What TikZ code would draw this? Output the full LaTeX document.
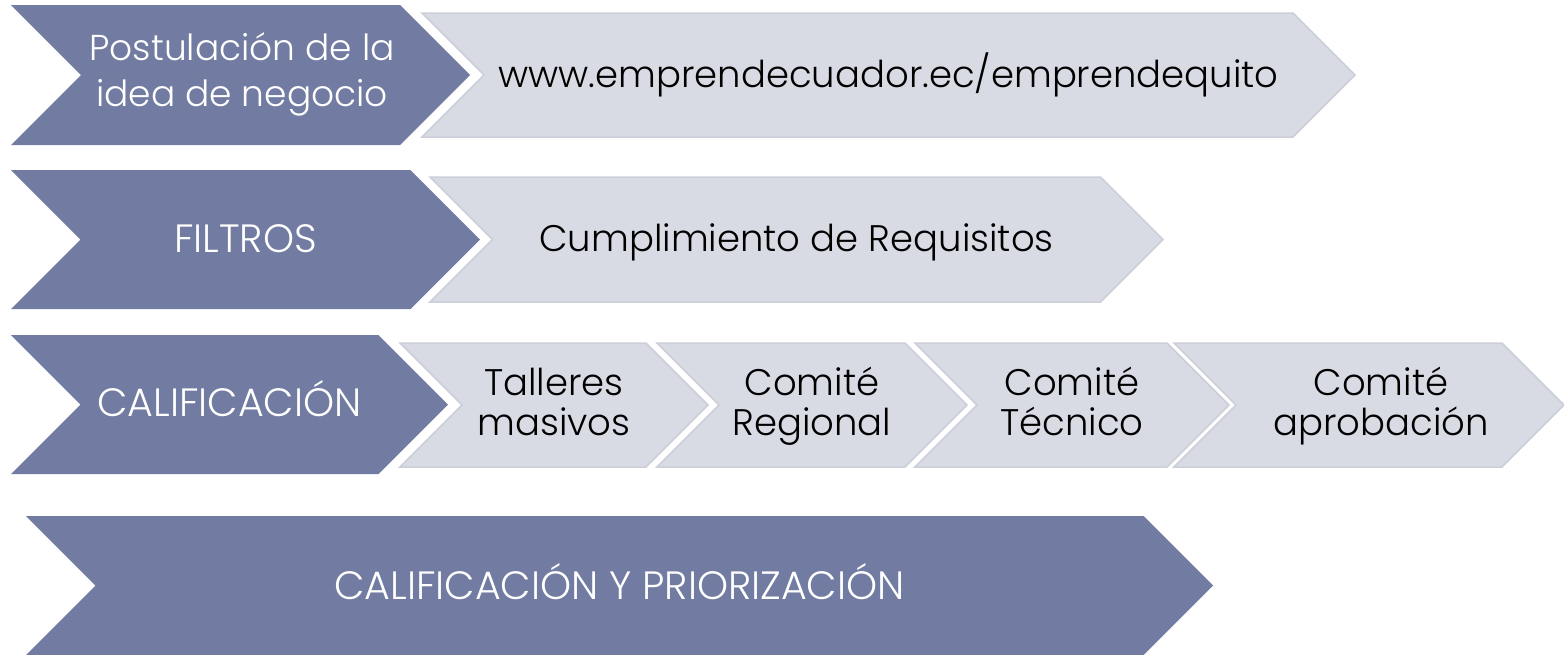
\documentclass[tikz,border=0pt]{standalone}
\usepackage{fontspec}
\setmainfont{Poppins}[UprightFont=* Light]
\definecolor{stepdark}{RGB}{114,124,162}
\definecolor{steplight}{RGB}{216,219,228}
\definecolor{stepedge}{RGB}{204,207,218}
\tikzset{
  darkchev/.style={fill=stepdark},
  lightchev/.style={fill=steplight,draw=stepedge,line width=1.5pt},
  darktext/.style={text=white,align=center,inner sep=0pt,font=\fontsize{39.5}{41}\selectfont},
  lighttext/.style={text=black,align=center,inner sep=0pt,font=\fontsize{37}{40}\selectfont},
}
% chevron: #1 style, #2 left x, #3 tip x, #4 top y, #5 bottom y
\newcommand\chevpath[5]{%
  \path[#1] (#2,#4) -- ({#3-(#5-#4)/2},#4) -- (#3,{(#4+#5)/2})
    -- ({#3-(#5-#4)/2},#5) -- (#2,#5) -- ({#2+(#5-#4)/2},{(#4+#5)/2}) -- cycle;}
% same height and depth for every label
\newcommand\tp{\vphantom{Él}}
\newcommand\bt{\vphantom{gp}}

\begin{document}
\begin{tikzpicture}[x=1pt,y=-1pt]
  \useasboundingbox[fill=white] (0,0) rectangle (1564,654);
  % row 1
  \chevpath{darkchev}{11}{470}{5}{145}
  \chevpath{lightchev}{422}{1355}{13}{137}
  \node[darktext,font=\fontsize{36}{46}\selectfont] (postul) at (242,72) {\tp Postulación de la\\idea de negocio\bt};
  \node[lighttext] (web) at (888.5,75) {\tp www.emprendecuador.ec/emprendequito\bt};
  % row 2
  \chevpath{darkchev}{11}{480}{170}{309}
  \chevpath{lightchev}{430}{1163}{177}{302}
  \node[darktext] (filtros) at (245.5,240) {\tp FILTROS\bt};
  \node[lighttext] (requis) at (796.5,240) {\tp Cumplimiento de Requisitos\bt};
  % row 3
  \chevpath{darkchev}{11}{448}{335}{474}
  \chevpath{lightchev}{400}{708}{343}{467}
  \chevpath{lightchev}{657}{967}{343}{467}
  \chevpath{lightchev}{915}{1229}{343}{467}
  \chevpath{lightchev}{1174}{1564}{343}{467}
  \node[darktext] (calif) at (229.5,404) {\tp CALIFICACIÓN\bt};
  \node[lighttext] (talleres) at (554,404) {\tp Talleres\\masivos\bt};
  \node[lighttext] (regional) at (812,404) {\tp Comité\\Regional\bt};
  \node[lighttext] (tecnico) at (1072,404) {\tp Comité\\Técnico\bt};
  \node[lighttext] (aprob) at (1381,404) {\tp Comité\\aprobación\bt};
  % row 4
  \chevpath{darkchev}{26}{1213}{516}{655}
  \node[darktext] (priori) at (619.5,587) {\tp CALIFICACIÓN Y PRIORIZACIÓN\bt};
\end{tikzpicture}
\end{document}
